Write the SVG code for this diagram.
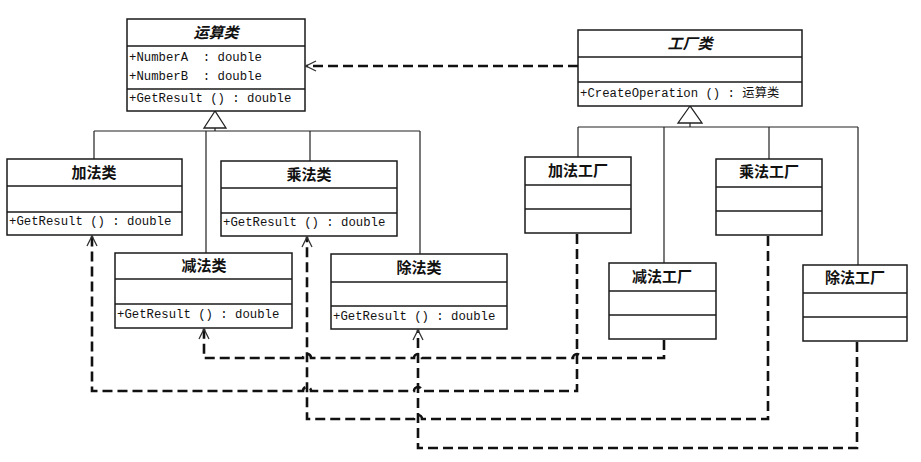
<svg xmlns="http://www.w3.org/2000/svg" width="921" height="462" viewBox="0 0 921 462">
<style>
.box{fill:#fff;stroke:#1a1a1a;stroke-width:1.5}
.sep{stroke:#1a1a1a;stroke-width:1.3}
.ttl{font-family:"Noto Sans CJK SC","Liberation Sans",sans-serif;font-weight:bold;font-size:15px;text-anchor:middle;fill:#111}
.it{font-style:italic}
.mem{font-family:"Liberation Mono","Noto Sans CJK SC",monospace;font-size:12.3px;fill:#111;white-space:pre}
.gen{fill:none;stroke:#222;stroke-width:1.2}
.tri{fill:#fff;stroke:#222;stroke-width:1.3}
.dep{fill:none;stroke:#111;stroke-width:2.6;stroke-dasharray:10,5}
</style>
<defs>
<marker id="open" viewBox="0 0 12 12" refX="11" refY="6" markerWidth="12" markerHeight="12" markerUnits="userSpaceOnUse" orient="auto">
<path d="M1,1 L11,6 L1,11" fill="none" stroke="#333" stroke-width="1.3" stroke-dasharray="none"/>
</marker>
</defs>
<rect width="921" height="462" fill="#fff"/>

<g id="connectors">
<path class="gen" d="M215,128 V131 M94,131 H420 M94,131 V159 M206,131 V253 M310,131 V161 M420,131 V254"/>
<polygon class="tri" points="215,111 204,128 226,128"/>
<path class="gen" d="M690,123 V127 M578,127 H858 M578,127 V157 M664,127 V263 M769,127 V159 M858,127 V265"/>
<polygon class="tri" points="690,106 678,123 702,123"/>
<path class="dep" marker-end="url(#open)" d="M578,66 H306"/>
<path class="dep" marker-end="url(#open)" d="M577,234 V391 H422 A4,4 0 0 0 414,391 H311 A4,4 0 0 0 303,391 H92 V236"/>
<path class="dep" marker-end="url(#open)" d="M664,340 V358 H581 A4,4 0 0 0 573,358 H422 A4,4 0 0 0 414,358 H311 A4,4 0 0 0 303,358 H204 V329"/>
<path class="dep" marker-end="url(#open)" d="M768,236 V419 H422 A4,4 0 0 0 414,419 H307 V237"/>
<path class="dep" marker-end="url(#open)" d="M857,342 V448 H418 V330"/>
</g>

<g id="operation">
<rect class="box" x="127" y="19" width="178" height="92"/>
<line class="sep" x1="127" y1="46" x2="305" y2="46"/>
<line class="sep" x1="127" y1="89" x2="305" y2="89"/>
<text class="ttl it" x="216" y="38">运算类</text>
<text class="mem" x="129" y="61" xml:space="preserve">+NumberA  : double</text>
<text class="mem" x="129" y="80" xml:space="preserve">+NumberB  : double</text>
<text class="mem" x="129" y="102">+GetResult () : double</text>
</g>

<g id="factory">
<rect class="box" x="578" y="30" width="224" height="76"/>
<line class="sep" x1="578" y1="57" x2="802" y2="57"/>
<line class="sep" x1="578" y1="82" x2="802" y2="82"/>
<text class="ttl it" x="690" y="49">工厂类</text>
<text class="mem" x="580" y="97">+CreateOperation () : 运算类</text>
</g>

<g id="add">
<rect class="box" x="7" y="159" width="175" height="76"/>
<line class="sep" x1="7" y1="186" x2="182" y2="186"/>
<line class="sep" x1="7" y1="212" x2="182" y2="212"/>
<text class="ttl" x="94" y="178">加法类</text>
<text class="mem" x="9" y="225">+GetResult () : double</text>
</g>

<g id="mul">
<rect class="box" x="221" y="161" width="176" height="75"/>
<line class="sep" x1="221" y1="188" x2="397" y2="188"/>
<line class="sep" x1="221" y1="213" x2="397" y2="213"/>
<text class="ttl" x="309" y="180">乘法类</text>
<text class="mem" x="223" y="226">+GetResult () : double</text>
</g>

<g id="sub">
<rect class="box" x="115" y="253" width="177" height="75"/>
<line class="sep" x1="115" y1="279" x2="292" y2="279"/>
<line class="sep" x1="115" y1="304" x2="292" y2="304"/>
<text class="ttl" x="204" y="271">减法类</text>
<text class="mem" x="117" y="318">+GetResult () : double</text>
</g>

<g id="div">
<rect class="box" x="331" y="254" width="176" height="75"/>
<line class="sep" x1="331" y1="282" x2="507" y2="282"/>
<line class="sep" x1="331" y1="306" x2="507" y2="306"/>
<text class="ttl" x="419" y="273">除法类</text>
<text class="mem" x="333" y="320">+GetResult () : double</text>
</g>

<g id="addFactory">
<rect class="box" x="525" y="157" width="106" height="76"/>
<line class="sep" x1="525" y1="185" x2="631" y2="185"/>
<line class="sep" x1="525" y1="209" x2="631" y2="209"/>
<text class="ttl" x="578" y="176">加法工厂</text>
</g>

<g id="mulFactory">
<rect class="box" x="716" y="159" width="106" height="76"/>
<line class="sep" x1="716" y1="187" x2="822" y2="187"/>
<line class="sep" x1="716" y1="211" x2="822" y2="211"/>
<text class="ttl" x="769" y="177">乘法工厂</text>
</g>

<g id="subFactory">
<rect class="box" x="609" y="263" width="107" height="76"/>
<line class="sep" x1="609" y1="291" x2="716" y2="291"/>
<line class="sep" x1="609" y1="315" x2="716" y2="315"/>
<text class="ttl" x="662" y="282">减法工厂</text>
</g>

<g id="divFactory">
<rect class="box" x="803" y="265" width="104" height="76"/>
<line class="sep" x1="803" y1="293" x2="907" y2="293"/>
<line class="sep" x1="803" y1="317" x2="907" y2="317"/>
<text class="ttl" x="855" y="283">除法工厂</text>
</g>
</svg>
